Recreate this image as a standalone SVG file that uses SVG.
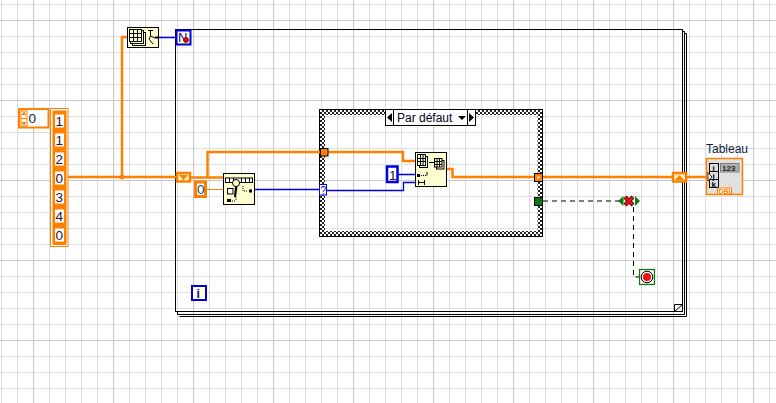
<svg xmlns="http://www.w3.org/2000/svg" width="776" height="403" viewBox="0 0 776 403">
<style>
text{font-family:"Liberation Sans",Arial,sans-serif}
.w{fill:none;stroke:#ff8000;stroke-width:2.500}
.wt{fill:none;stroke:#ff8000;stroke-width:1}
.b{fill:none;stroke:#0000e0;stroke-width:1.300}
.d{fill:none;stroke:#000;stroke-width:1;stroke-dasharray:5 4}
.n{fill:#ffffd2;stroke:#000;stroke-width:1}
.k{fill:none;stroke:#000;stroke-width:1}
.g{fill:#000}
.num{font-size:13.500px;fill:#301030}
</style>
<defs>
<pattern id="gr" width="16" height="16" patternUnits="userSpaceOnUse" x="1" y="4">
<path d="M0.5 0V16M0 0.5H16" stroke="#dedede" stroke-width="1.200" fill="none"/>
</pattern>
<pattern id="gr2" width="80" height="80" patternUnits="userSpaceOnUse" x="33" y="20">
<path d="M0.5 0V80M0 0.5H80" stroke="#c8c8c8" stroke-width="1.200" fill="none"/>
</pattern>
<pattern id="ck" width="4" height="4" patternUnits="userSpaceOnUse">
<rect width="4" height="4" fill="#fff"/><rect width="2" height="2" fill="#222"/><rect x="2" y="2" width="2" height="2" fill="#222"/>
</pattern>
</defs>
<rect width="776" height="403" fill="#fff"/>
<rect width="776" height="403" fill="url(#gr)"/>
<rect width="776" height="403" fill="url(#gr2)"/>

<g id="while-loop">
<path class="k" d="M179.500 316.500H686.500V33.500H684.500M177.500 311.500V314.500H684.500V31.500H682.500"/>
<rect x="175.500" y="29.500" width="507" height="282" fill="none" stroke="#000"/>
<path d="M674.500 311.500V304.500H682.500Z" fill="#fff" stroke="#000"/>
</g>

<g id="case-structure">
<rect x="319.500" y="109.500" width="223" height="127" fill="url(#ck)" stroke="#000"/>
<rect x="325" y="115" width="212.500" height="116" fill="#fff"/>
<rect x="325" y="115" width="212.500" height="116" fill="url(#gr)"/>
<rect x="325" y="115" width="212.500" height="116" fill="url(#gr2)"/>
</g>

<g id="connectors">
<path class="w" d="M68 177H176M122 177V37H127M191 177.500H223M207.500 177.500V152H320M328 152H403V161H415M447 169H452.500V177H534M542 177H672M686 177H707"/>
<circle cx="122" cy="177" r="2.500" fill="#ff8000"/>
<path class="wt" d="M206 189.500H223"/>
<path class="b" d="M158 37.500H176M255 189.500H320M327 190.500H403.500V182.500H415M398 174.500H415"/>
<path class="d" d="M543 201H620M633.500 207V277H639"/>
</g>

<g id="index-control">
<rect x="19" y="109" width="29.500" height="18.500" fill="#fff" stroke="#ff8000" stroke-width="2"/>
<rect x="21" y="111" width="6" height="15" fill="#fff" stroke="#ff8000" stroke-width="1"/>
<path d="M24 111.500L26.500 115H21.500ZM24 125.500L26.500 122H21.500Z" fill="#ff8000"/>
<path d="M21 118.500H27" stroke="#ff8000"/>
<text x="28.500" y="123" class="num" style="fill:#102040">0</text>
</g>

<g id="array-constant">
<rect x="50.500" y="108.500" width="17.500" height="138" fill="#fff" stroke="#ff8000"/>
<rect x="52.500" y="110.500" width="14" height="134.500" fill="#ff8000"/>
<rect x="55" y="114.500" width="9" height="13" fill="#fff"/>
<rect x="55" y="133.500" width="9" height="13" fill="#fff"/>
<rect x="55" y="152.500" width="9" height="13" fill="#fff"/>
<rect x="55" y="171.500" width="9" height="13" fill="#fff"/>
<rect x="55" y="190.500" width="9" height="13" fill="#fff"/>
<rect x="55" y="209.500" width="9" height="13" fill="#fff"/>
<rect x="55" y="228.500" width="9" height="13" fill="#fff"/>
<text x="55.500" y="125.500" class="num">1</text>
<text x="55.500" y="144.500" class="num">1</text>
<text x="55.500" y="163.500" class="num">2</text>
<text x="55.500" y="182.500" class="num">0</text>
<text x="55.500" y="201.500" class="num">3</text>
<text x="55.500" y="220.500" class="num">4</text>
<text x="55.500" y="239.500" class="num">0</text>
</g>

<g id="array-size">
<rect class="n" x="127.500" y="27.500" width="31" height="20"/>
<g fill="#ffffd2" stroke="#000" stroke-width="1">
<rect x="132.500" y="32.500" width="13" height="13"/>
<rect x="130.500" y="30.500" width="13" height="13"/>
<rect x="129.500" y="29.500" width="12" height="12"/>
<path d="M129.500 33.500H141.500M129.500 37.500H141.500M133.500 29.500V41.500M137.500 29.500V41.500" fill="none"/>
<path d="M148 30.500H153M150.500 30.500V36L149 39L153 44M150.500 36L155 38" fill="none"/>
</g>
<path d="M155 37.500H158" stroke="#000" stroke-width="2"/>
</g>

<g id="n-terminal">
<rect x="176.500" y="30.500" width="14" height="14" fill="#ffffd2" stroke="#0000e0" stroke-width="2"/>
<text x="178" y="41.500" font-size="13" fill="#0000e0">N</text>
<circle cx="186" cy="40" r="2.500" fill="#f00" stroke="#000" stroke-width=".6"/>
</g>

<g id="shift-left">
<rect x="177" y="173" width="13" height="8.500" fill="#fff0c0" stroke="#ff8000" stroke-width="2.500"/>
<path d="M179 175H188L183.500 180Z" fill="#ff8000"/>
</g>

<g id="constant-0">
<rect x="195.500" y="182" width="10" height="14.500" fill="#fff" stroke="#ff8000" stroke-width="3"/>
<text x="197" y="194" class="num" style="fill:#204080">0</text>
</g>

<g id="search-array">
<rect class="n" x="223.500" y="173.500" width="31" height="31"/>
<rect x="225.500" y="178" width="27" height="4.500" fill="#fff" stroke="#000"/>
<path class="k" d="M229.500 178V182M233.500 178V182M241.500 178V182M245.500 178V182M249.500 178V182"/>
<circle cx="236" cy="183" r="3.500" fill="#ffffd2" stroke="#000"/>
<path d="M235 186.500H237.500L236 197H234Z" fill="#000"/>
<rect x="227.500" y="188.500" width="5.500" height="5.500" fill="#fff" stroke="#000"/>
<rect x="249" y="189.500" width="3" height="3" fill="#000"/>
<path class="k" d="M243 186V191H248" stroke-dasharray="1 1"/>
<rect x="227" y="199" width="4" height="3" fill="#000"/>
<path class="k" d="M232 201H236M236 197V201" stroke-dasharray="1 1"/>
</g>

<g id="selector">
<rect x="385.500" y="109.500" width="90" height="16" fill="#fff" stroke="#000"/>
<path class="k" d="M393.500 109.500V125.500M467.500 109.500V125.500"/>
<path class="g" d="M387 117.500L392 113V122ZM474 117.500L469 113V122ZM458 116H466L462 120Z"/>
<text x="397" y="122" font-size="12" fill="#002">Par défaut</text>
</g>

<g id="tunnel-left">
<rect x="320.500" y="148.500" width="7.500" height="7.500" fill="#ff8000" stroke="#000"/>
</g>

<g id="case-selector-terminal">
<rect x="319.500" y="184.500" width="7" height="10.500" fill="#fff" stroke="#0000e0"/>
<text x="320.500" y="193.500" font-size="10" fill="#0000e0">?</text>
</g>

<g id="constant-1">
<rect x="387" y="166.500" width="10.500" height="15.500" fill="#fff" stroke="#0000e0" stroke-width="2.500"/>
<text x="389" y="179.500" class="num">1</text>
</g>

<g id="reshape">
<rect class="n" x="415.500" y="152.500" width="31" height="34"/>
<g fill="#ffffd2" stroke="#000">
<rect x="419.500" y="156.500" width="8" height="11"/>
<rect x="417.500" y="154.500" width="8" height="11"/>
<path d="M417.500 158.500H425.500M417.500 161.500H425.500M420.500 154.500V165.500M423 154.500V165.500" fill="none"/>
<rect x="436.500" y="160.500" width="7.500" height="8.500"/>
<rect x="434.500" y="158.500" width="7.500" height="8.500"/>
<path d="M434.500 161.500H442M434.500 164.500H442M437 158.500V167M439.500 158.500V167" fill="none"/>
</g>
<path d="M429 162.500H434" stroke="#000"/>
<rect x="417" y="174" width="3" height="3" fill="#000"/>
<path class="k" d="M421 175.500H427" stroke-dasharray="1 1"/>
<path class="k" d="M427 175.500V172"/>
<path class="k" d="M418 182.500H425M418.500 180V185M424.500 180V185"/>
</g>

<g id="tunnel-right">
<rect x="534.500" y="173.500" width="8" height="8" fill="#ff8000" stroke="#000"/>
<rect x="537.500" y="176.500" width="2" height="2" fill="#fff"/>
</g>

<g id="tunnel-bool">
<rect x="534.500" y="197.500" width="8" height="8" fill="#0a7a10" stroke="#000"/>
</g>

<g id="shift-right">
<rect x="673" y="173" width="13" height="8.500" fill="#fff0c0" stroke="#ff8000" stroke-width="2.500"/>
<path d="M675 180H684L679.500 175Z" fill="#ff8000"/>
</g>

<g id="indicator">
<text x="706" y="153" font-size="12" fill="#102040">Tableau</text>
<rect x="706.500" y="158.500" width="36" height="36" fill="#e0e0e0" stroke="#ff8000" stroke-width="1.500"/>
<rect x="709.500" y="163.500" width="9" height="24" fill="#ddd" stroke="#000"/>
<path class="k" d="M709.500 171.500H718.500M709.500 179.500H718.500"/>
<text x="712.500" y="170.500" font-size="8" font-weight="bold" fill="#000">i</text>
<text x="712.500" y="178.500" font-size="8" font-weight="bold" fill="#000">j</text>
<text x="711.500" y="186.500" font-size="8" font-weight="bold" fill="#000">k</text>
<path d="M708 172.500V181L712 177Z" fill="#fff" stroke="#000" stroke-width=".8"/>
<rect x="720.500" y="163.500" width="18.500" height="8.500" fill="#b0b0b0" stroke="#808080"/>
<text x="722" y="171" font-size="8" font-weight="bold" fill="#222">123</text>
<rect x="717.500" y="188" width="14" height="6.500" fill="#fff" stroke="#ff8000"/>
<text x="718.500" y="194" font-size="7" font-weight="bold" fill="#ff8000">DBL</text>
</g>

<g id="compound-or">
<path d="M618 201L623.500 196V206ZM640 201L635 196V206Z" fill="#0a7a10"/>
<path d="M625 197L633 205M633 197L625 205" stroke="#000" stroke-width="4"/>
<path d="M625 197L633 205M633 197L625 205" stroke="#f01010" stroke-width="2.500"/>
</g>

<g id="stop">
<rect x="639.500" y="269.500" width="15" height="15" fill="#f4f4e8" stroke="#0a7a10" stroke-width="1.200"/>
<circle cx="647" cy="277" r="5.800" fill="#fff" stroke="#000"/>
<circle cx="647" cy="277" r="4" fill="#f01010"/>
</g>

<g id="i-terminal">
<rect x="192" y="286" width="14" height="14" fill="#ffffd2" stroke="#0000e0" stroke-width="2"/>
<text x="196.500" y="297.500" font-size="12" font-weight="bold" fill="#0000e0">i</text>
</g>
</svg>
